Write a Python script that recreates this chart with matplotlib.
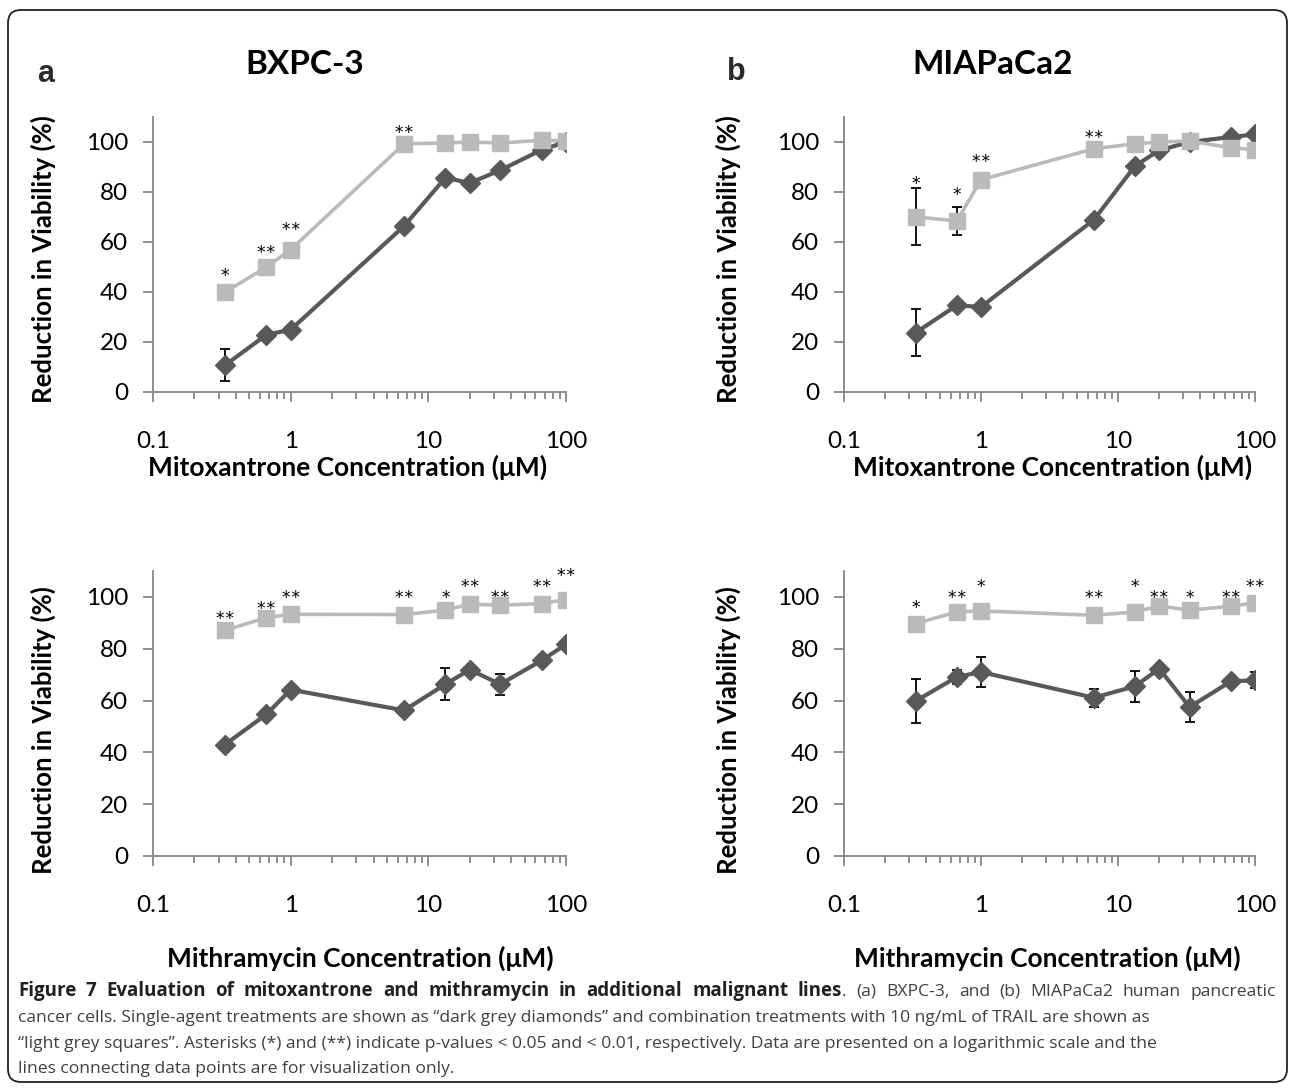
import matplotlib
matplotlib.use("Agg")
import matplotlib.pyplot as plt
from matplotlib.patches import FancyBboxPatch
from matplotlib.ticker import FixedLocator, LogLocator, NullFormatter

plt.rcParams["font.family"] = ["Lato", "DejaVu Sans"]

# concentrations (uM), shared by every panel
conc = [0.333, 0.667, 1, 6.67, 13.3, 20, 33.3, 66.7, 100]
xtick_vals = [0.1, 1, 10, 100]
xtick_labels = ["0.1", "1", "10", "100"]
ytick_vals = [0, 20, 40, 60, 80, 100]

# (a) BXPC-3, mitoxantrone
a_mito_single = [10.7, 22.9, 24.9, 66.4, 85.7, 83.6, 88.7, 96.9, 100.0]
a_mito_single_err = [6.5, 0, 0, 0, 0, 0, 0, 0, 0]
a_mito_combo = [39.9, 50.0, 56.9, 99.3, 99.6, 100.0, 99.6, 100.7, 100.4]
a_mito_combo_err = [0, 0, 0, 0, 0, 0, 0, 0, 0]
a_mito_stars = ["*", "**", "**", "**", "", "", "", "", ""]
a_mito_star_y = [48.7, 58.0, 66.9, 105.7, 0, 0, 0, 0, 0]

# (b) MIAPaCa2, mitoxantrone
b_mito_single = [23.7, 34.7, 34.0, 68.9, 90.4, 96.7, 100.0, 102.0, 103.0]
b_mito_single_err = [9.3, 0, 0, 0, 0, 0, 0, 0, 0]
b_mito_combo = [70.1, 68.4, 84.9, 97.3, 99.3, 100.0, 100.4, 97.7, 96.9]
b_mito_combo_err = [11.5, 5.5, 0, 0, 0, 0, 0, 0, 0]
b_mito_stars = ["*", "*", "**", "**", "", "", "", "", ""]
b_mito_star_y = [85.3, 80.9, 94.4, 103.7, 0, 0, 0, 0, 0]

# (a) BXPC-3, mithramycin
a_mith_single = [43.0, 54.7, 64.2, 56.2, 66.3, 71.9, 66.3, 75.5, 81.7]
a_mith_single_err = [0, 0, 0, 0, 6.1, 0, 4.0, 0, 0]
a_mith_combo = [87.1, 92.0, 93.3, 93.2, 94.9, 97.2, 96.8, 97.4, 99.0]
a_mith_combo_err = [0, 0, 0, 0, 0, 0, 0, 0, 0]
a_mith_stars = ["**", "**", "**", "**", "*", "**", "**", "**", "**"]
a_mith_star_y = [93.6, 97.4, 101.7, 101.7, 101.7, 105.8, 101.7, 105.8, 110.3]

# (b) MIAPaCa2, mithramycin
b_mith_single = [59.8, 69.1, 71.0, 61.1, 65.5, 72.3, 57.5, 67.4, 67.8]
b_mith_single_err = [8.5, 2.6, 5.7, 3.5, 6.0, 0, 5.8, 0, 3.1]
b_mith_combo = [89.7, 94.2, 94.6, 92.9, 94.2, 96.5, 94.9, 96.4, 97.7]
b_mith_combo_err = [0, 0, 0, 0, 0, 0, 0, 0, 0]
b_mith_stars = ["*", "**", "*", "**", "*", "**", "*", "**", "**"]
b_mith_star_y = [97.8, 101.9, 105.8, 101.9, 105.8, 101.9, 101.9, 101.9, 105.8]

DARK = "#595959"
LIGHT = "#bababa"
AXIS = "#868686"

W, H = 1295, 1089
fig = plt.figure(figsize=(W / 100, H / 100), dpi=100)


def px_axes(left, right, y0, ytop):
    return fig.add_axes([left / W, 1 - y0 / H, (right - left) / W, (y0 - ytop) / H])


def ftext(x, y, s, **kw):
    return fig.text(x / W, 1 - y / H, s, **kw)


def errbars(ax, y, err):
    xs = [c for c, e in zip(conc, err) if e > 0]
    ys = [v for v, e in zip(y, err) if e > 0]
    es = [e for e in err if e > 0]
    if xs:
        ax.errorbar(xs, ys, yerr=es, fmt="none", ecolor="black",
                    elinewidth=1.3, capsize=3.3, capthick=1.3, zorder=2)


def panel(ax, single, single_err, combo, combo_err, stars, star_y):
    ax.plot(conc, single, color=DARK, lw=3, marker="D", ms=10.5,
            mec=DARK, zorder=3)
    ax.plot(conc, combo, color=LIGHT, lw=2.6, marker="s", ms=12,
            mec=LIGHT, zorder=4)
    errbars(ax, single, single_err)
    errbars(ax, combo, combo_err)
    for c, s, sy in zip(conc, stars, star_y):
        if s:
            ax.annotate(s, (c, sy), xytext=(0, -7.6), textcoords="offset points",
                        ha="center", va="baseline", fontsize=12.5,
                        family="DejaVu Sans Mono", annotation_clip=False)

    ax.set_xscale("log")
    ax.set_xlim(0.1, 100)
    ax.set_ylim(0, 110)
    ax.xaxis.set_major_locator(FixedLocator(xtick_vals))
    ax.set_xticklabels(xtick_labels)
    ax.xaxis.set_minor_locator(LogLocator(base=10, subs=range(2, 10)))
    ax.xaxis.set_minor_formatter(NullFormatter())
    ax.set_yticks(ytick_vals)
    for sp in ["top", "right"]:
        ax.spines[sp].set_visible(False)
    for sp in ["left", "bottom"]:
        ax.spines[sp].set_color(AXIS)
        ax.spines[sp].set_linewidth(1.3)
    ax.tick_params(axis="x", which="major", direction="out", length=7,
                   width=1.3, color=AXIS, pad=21, labelsize=17.5)
    ax.tick_params(axis="x", which="minor", direction="out", length=5,
                   width=1.3, color=AXIS)
    ax.tick_params(axis="y", direction="out", length=7, width=1.3,
                   color=AXIS, pad=11, labelsize=17.5)


ax1 = px_axes(153, 566, 392, 392 - 275)
ax2 = px_axes(844, 1255, 392, 392 - 275)
ax3 = px_axes(153, 566, 856, 856 - 285)
ax4 = px_axes(844, 1255, 856, 856 - 285)

panel(ax1, a_mito_single, a_mito_single_err, a_mito_combo, a_mito_combo_err,
      a_mito_stars, a_mito_star_y)
panel(ax2, b_mito_single, b_mito_single_err, b_mito_combo, b_mito_combo_err,
      b_mito_stars, b_mito_star_y)
panel(ax3, a_mith_single, a_mith_single_err, a_mith_combo, a_mith_combo_err,
      a_mith_stars, a_mith_star_y)
panel(ax4, b_mith_single, b_mith_single_err, b_mith_combo, b_mith_combo_err,
      b_mith_stars, b_mith_star_y)

# panel letters and titles
ftext(46, 82, "a", fontsize=22, fontweight="bold", family="Liberation Sans",
      color="#2a2a2a", ha="center", va="baseline")
ftext(736, 80, "b", fontsize=22, fontweight="bold", family="Liberation Sans",
      color="#2a2a2a", ha="center", va="baseline")
ftext(305, 65, "BXPC-3", fontsize=24, fontweight="bold", ha="center", va="center")
ftext(993, 65, "MIAPaCa2", fontsize=24, fontweight="bold", ha="center", va="center")

# axis titles
ylab = "Reduction in Viability (%)"
for x, y in [(43, 259), (728, 259), (43, 730), (728, 730)]:
    ftext(x, y, ylab, fontsize=18.5, fontweight="bold", rotation=90,
          ha="center", va="center")

ftext(348, 467, "Mitoxantrone Concentration (μM)", fontsize=19, fontweight="bold",
      ha="center", va="center")
ftext(1053, 467, "Mitoxantrone Concentration (μM)", fontsize=19, fontweight="bold",
      ha="center", va="center")
ftext(360, 958, "Mithramycin Concentration (μM)", fontsize=19, fontweight="bold",
      ha="center", va="center")
ftext(1047, 958, "Mithramycin Concentration (μM)", fontsize=19, fontweight="bold",
      ha="center", va="center")

# caption
cap_font = ["Open Sans", "DejaVu Sans"]
cap_size = 12.6
cap_bold_size = 13.5
cap_left, cap_right = 18, 1276
bold_part = "Figure 7 Evaluation of mitoxantrone and mithramycin in additional malignant lines"
first_rest = ". (a) BXPC-3, and (b) MIAPaCa2 human pancreatic"
other_lines = [
    "cancer cells. Single-agent treatments are shown as “dark grey diamonds” and combination treatments with 10 ng/mL of TRAIL are shown as",
    "“light grey squares”. Asterisks (*) and (**) indicate p-values < 0.05 and < 0.01, respectively. Data are presented on a logarithmic scale and the",
    "lines connecting data points are for visualization only.",
]
baselines = [996, 1022, 1048, 1073]

# first line is justified: place words one by one
tokens = [(w, True, False) for w in bold_part.split()]
rest_words = first_rest.split()
tokens.append((rest_words[0], False, True))  # the period sticks to "lines"
tokens += [(w, False, False) for w in rest_words[1:]]
renderer = fig.canvas.get_renderer()
objs = []
for w, bold, _ in tokens:
    t = ftext(0, baselines[0], w, fontsize=cap_bold_size if bold else cap_size,
              fontweight="bold" if bold else "normal", family=cap_font,
              color="#231f20" if bold else "#404040", va="baseline")
    objs.append(t)
widths = [t.get_window_extent(renderer).width for t in objs]
n_gaps = sum(1 for _, _, glue in tokens[1:] if not glue)
gap = (cap_right - cap_left - sum(widths)) / n_gaps
x = cap_left
for t, wdt, (_, _, glue) in zip(objs, widths, tokens):
    if glue:
        x -= gap
    t.set_x(x / W)
    x += wdt + gap

for line, yb in zip(other_lines, baselines[1:]):
    ftext(cap_left, yb, line, fontsize=cap_size, family=cap_font, color="#404040",
          va="baseline")

# rounded frame around the whole figure
frame = FancyBboxPatch((0.08, 0.07), 12.79, 10.72,
                       boxstyle="round,pad=0,rounding_size=0.13",
                       transform=fig.dpi_scale_trans, fill=False,
                       edgecolor="#222222", linewidth=1.3)
fig.patches.append(frame)

fig.savefig("out.png", dpi=100)
